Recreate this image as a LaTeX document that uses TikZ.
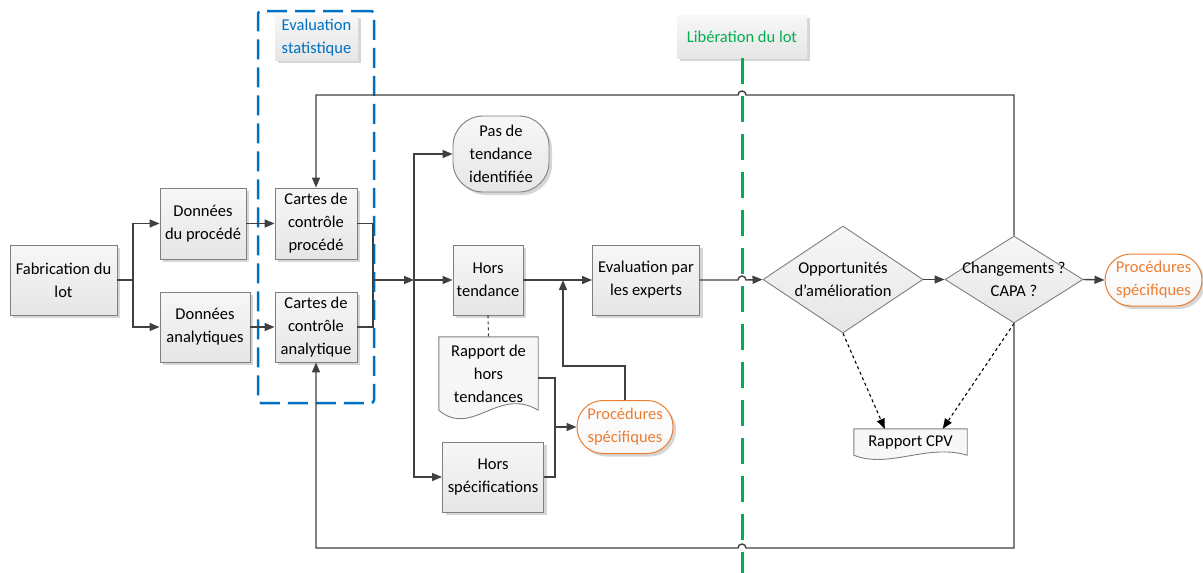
\documentclass[tikz,border=0pt]{standalone}
\usepackage{fontspec}
\setmainfont{Carlito}
\usetikzlibrary{arrows.meta,shadows,shapes.geometric,calc}
\definecolor{lc}{HTML}{404040}
\definecolor{bc}{HTML}{7F7F7F}
\definecolor{bluec}{HTML}{0070C0}
\definecolor{greenc}{HTML}{00B050}
\definecolor{orangec}{HTML}{ED7D31}
\definecolor{shadc}{HTML}{D6D6D6}
\definecolor{boxtop}{HTML}{F7F7F7}
\definecolor{boxbot}{HTML}{E6E6E6}
\begin{document}
\begin{tikzpicture}[x=1pt,y=-1pt,
  font=\fontsize{16.5}{23}\selectfont,
  shad/.style={drop shadow={shadow xshift=3pt, shadow yshift=-3pt, fill=shadc, opacity=1}},
  box/.style={draw=bc, line width=0.9pt, top color=boxtop, bottom color=boxbot, shad, align=center, inner sep=0pt},
  obox/.style={draw=orangec, line width=1pt, top color=white, bottom color=boxtop, shad, align=center, inner sep=0pt, text=orangec},
  lbl/.style={top color=boxtop, bottom color=boxbot, shad, align=center, inner sep=0pt},
  dia/.style={diamond, draw=bc, line width=0.9pt, top color=boxtop, bottom color=boxbot, inner sep=0pt},
  conn/.style={draw=lc, line width=1.4pt},
  arr/.style={conn, -{Triangle[length=10pt,width=8pt]}},
  darr/.style={draw=black, line width=1.1pt, dashed, -{Triangle[length=10pt,width=8pt]}},
  doc/.style={draw=bc, line width=0.9pt, fill=boxtop}
]
\useasboundingbox (0,0) rectangle (1203,573);

% containers and labels
\node[draw=bluec, line width=2.5pt, dash pattern=on 20pt off 8pt, rounded corners=3pt,
      minimum width=116pt, minimum height=392pt, inner sep=0pt] (evsbox) at (316,207) {};
\node[lbl, minimum width=83pt, minimum height=45pt, text=bluec] (evs) at (316.5,37.5) {Evaluation\\statistique};
\node[lbl, minimum width=130pt, minimum height=43pt, text=greenc] (lib) at (742,36.5) {Libération du lot};
\coordinate (gend) at (742,573);
\draw[greenc, line width=3pt, dash pattern=on 26pt off 12pt] (lib.south) -- (gend);

% boxes
\node[box, minimum width=107pt, minimum height=70pt] (fab) at (63.5,280) {Fabrication du\\lot};
\node[box, minimum width=86pt, minimum height=71pt] (dp) at (203,223.5) {Données\\du procédé};
\node[box, minimum width=90pt, minimum height=70pt] (da) at (205,327) {Données\\analytiques};
\node[box, minimum width=82pt, minimum height=71pt] (cp) at (316,223.5) {Cartes de\\contrôle\\procédé};
\node[box, minimum width=82pt, minimum height=70pt] (ca) at (316,327) {Cartes de\\contrôle\\analytique};
\node[box, minimum width=96pt, minimum height=76pt, rounded corners=30pt] (pdt) at (501,154) {Pas de\\tendance\\identifiée};
\node[box, minimum width=70pt, minimum height=70pt] (ht) at (488,280) {Hors\\tendance};
\node[box, minimum width=107pt, minimum height=70pt] (ev) at (646,280) {Evaluation par\\les experts};
\node[box, minimum width=101pt, minimum height=70pt] (hs) at (493,477) {Hors\\spécifications};
\node[obox, minimum width=96pt, minimum height=53pt, rounded corners=26pt] (ps1) at (625,427) {Procédures\\spécifiques};
\node[obox, minimum width=97pt, minimum height=52pt, rounded corners=26pt] (ps2) at (1153.5,280) {Procédures\\spécifiques};

% documents
\node[minimum width=99pt, minimum height=73pt, inner sep=0pt] (rh) at (488.5,373.5) {};
\draw[doc] (rh.north west) -- (rh.north east) -- (rh.south east)
  .. controls +(-40,-24) and +(33,28) .. (rh.south west) -- cycle;
\node[align=center] at (rh.center) {Rapport de\\hors\\tendances};
\node[minimum width=113pt, minimum height=26pt, inner sep=0pt] (rc) at (910.5,442) {};
\draw[doc] (rc.north west) -- (rc.north east) -- (rc.south east)
  .. controls +(-40,-12) and +(35,14) .. (rc.south west) -- cycle;
\node at (rc.center) {Rapport CPV};

% diamonds
\node[dia, minimum width=160pt, minimum height=107pt,
      label={[align=center, inner sep=0pt]center:Opportunités\\d’amélioration}] (opp) at (843,279.5) {};
\node[dia, minimum width=138pt, minimum height=87pt,
      label={[align=center, inner sep=0pt]center:Changements ?\\CAPA ?}] (chg) at (1014,279.5) {};

% junctions
\coordinate (j1) at (133,280);
\coordinate (j2) at (373,280);
\coordinate (j3) at (414,280);
\coordinate (j4) at (555,427);
\coordinate (j5) at (563,366);
\coordinate (j6) at (563,280);
\coordinate (topy) at (0,95);
\coordinate (boty) at (0,548);

% connectors left part
\draw[conn] (fab.east) -- (j1);
\draw[arr] (j1) |- (dp.west);
\draw[arr] (j1) |- (da.west);
\draw[arr] (dp.east) -- (cp.west);
\draw[arr] (da.east) -- (ca.west);
\draw[conn] (cp.east) -| (j2);
\draw[conn] (ca.east) -| (j2);
\draw[arr] (j2) -- (j3);
\draw[arr] (j3) |- (pdt.west);
\draw[arr] (j3) -- (ht.west);
\draw[arr] (j3) |- (hs.west);
\draw[arr] (ht.east) -- (ev.west);
\draw[conn, line width=1.1pt, dashed] (ht.south) -- (rh.north);
\draw[conn] ([yshift=-4.5pt]rh.east) -| (j4);
\draw[conn] (hs.east) -| (j4);
\draw[arr] (j4) -- (ps1.west);
\draw[arr] (ps1.north) |- (j5) -- (j6);

% right part
\draw[arr] (ev.east) -- (738,280) arc[start angle=180, end angle=360, radius=4] -- (opp.west);
\draw[arr] (opp.east) -- (chg.west);
\draw[arr] (chg.east) -- (ps2.west);
\draw[darr] (opp.south) -- ($(rc.north west)+(31,0)$);
\draw[darr] (chg.south) -- ($(rc.north west)+(89,0)$);

% feedback loops
\draw[arr] (chg.north) -- (chg.north |- topy) -- (746,95) arc[start angle=0, end angle=-180, radius=4]
  -- (cp.north |- topy) -- (cp.north);
\draw[arr] (chg.south) -- (chg.south |- boty) -- (746,548) arc[start angle=0, end angle=-180, radius=4]
  -- (ca.south |- boty) -- (ca.south);
\end{tikzpicture}
\end{document}
